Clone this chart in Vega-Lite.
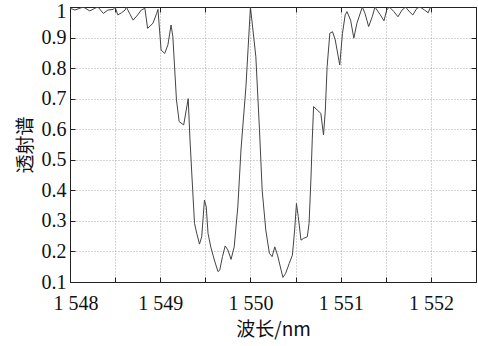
{
  "$schema": "https://vega.github.io/schema/vega-lite/v6.json",
  "width": 406,
  "height": 275,
  "autosize": "none",
  "padding": {"left": 70, "top": 7, "right": 2, "bottom": 64},
  "background": "white",
  "config": {
    "view": {"stroke": "#222", "strokeWidth": 1},
    "axis": {
      "labelFont": "Liberation Serif",
      "labelFontSize": 20,
      "labelColor": "#111",
      "titleFont": "Noto Sans CJK SC",
      "titleFontWeight": "normal",
      "titleFontSize": 19,
      "titleColor": "#111",
      "domainColor": "#222",
      "tickColor": "#222",
      "gridColor": "#aaa",
      "gridDash": [1, 2],
      "gridWidth": 1
    }
  },
  "data": {
    "values": [
      {"wavelength": 1548.0, "transmission": 0.996},
      {"wavelength": 1548.055, "transmission": 0.99},
      {"wavelength": 1548.11, "transmission": 0.996},
      {"wavelength": 1548.147, "transmission": 1.0},
      {"wavelength": 1548.22, "transmission": 0.987},
      {"wavelength": 1548.276, "transmission": 0.996},
      {"wavelength": 1548.31, "transmission": 1.0},
      {"wavelength": 1548.37, "transmission": 0.979},
      {"wavelength": 1548.42, "transmission": 0.99},
      {"wavelength": 1548.48, "transmission": 0.992},
      {"wavelength": 1548.5, "transmission": 1.0},
      {"wavelength": 1548.53, "transmission": 0.974},
      {"wavelength": 1548.57, "transmission": 0.981},
      {"wavelength": 1548.61, "transmission": 0.99},
      {"wavelength": 1548.625, "transmission": 1.0},
      {"wavelength": 1548.66, "transmission": 0.979},
      {"wavelength": 1548.7, "transmission": 0.957},
      {"wavelength": 1548.75, "transmission": 0.974},
      {"wavelength": 1548.79, "transmission": 0.99},
      {"wavelength": 1548.83, "transmission": 0.996},
      {"wavelength": 1548.86, "transmission": 0.93},
      {"wavelength": 1548.92, "transmission": 0.947},
      {"wavelength": 1548.96, "transmission": 0.979},
      {"wavelength": 1548.975, "transmission": 0.992},
      {"wavelength": 1549.01, "transmission": 0.859},
      {"wavelength": 1549.05, "transmission": 0.848},
      {"wavelength": 1549.085, "transmission": 0.876},
      {"wavelength": 1549.12, "transmission": 0.941},
      {"wavelength": 1549.14, "transmission": 0.903},
      {"wavelength": 1549.18, "transmission": 0.696},
      {"wavelength": 1549.21, "transmission": 0.625},
      {"wavelength": 1549.26, "transmission": 0.614},
      {"wavelength": 1549.31, "transmission": 0.7},
      {"wavelength": 1549.33, "transmission": 0.565},
      {"wavelength": 1549.36, "transmission": 0.4},
      {"wavelength": 1549.38, "transmission": 0.292},
      {"wavelength": 1549.405, "transmission": 0.259},
      {"wavelength": 1549.435, "transmission": 0.224},
      {"wavelength": 1549.46, "transmission": 0.248},
      {"wavelength": 1549.49, "transmission": 0.368},
      {"wavelength": 1549.51, "transmission": 0.346},
      {"wavelength": 1549.53, "transmission": 0.259},
      {"wavelength": 1549.56, "transmission": 0.215},
      {"wavelength": 1549.6, "transmission": 0.172},
      {"wavelength": 1549.64, "transmission": 0.134},
      {"wavelength": 1549.66, "transmission": 0.139},
      {"wavelength": 1549.69, "transmission": 0.183},
      {"wavelength": 1549.72, "transmission": 0.218},
      {"wavelength": 1549.75, "transmission": 0.205},
      {"wavelength": 1549.785, "transmission": 0.174},
      {"wavelength": 1549.82, "transmission": 0.215},
      {"wavelength": 1549.86, "transmission": 0.346},
      {"wavelength": 1549.895, "transmission": 0.532},
      {"wavelength": 1549.95, "transmission": 0.739},
      {"wavelength": 1550.0, "transmission": 1.0},
      {"wavelength": 1550.06, "transmission": 0.837},
      {"wavelength": 1550.1, "transmission": 0.6},
      {"wavelength": 1550.13, "transmission": 0.4},
      {"wavelength": 1550.17, "transmission": 0.27},
      {"wavelength": 1550.21, "transmission": 0.194},
      {"wavelength": 1550.24, "transmission": 0.183},
      {"wavelength": 1550.27, "transmission": 0.215},
      {"wavelength": 1550.3, "transmission": 0.188},
      {"wavelength": 1550.34, "transmission": 0.139},
      {"wavelength": 1550.36, "transmission": 0.115},
      {"wavelength": 1550.39, "transmission": 0.128},
      {"wavelength": 1550.43, "transmission": 0.161},
      {"wavelength": 1550.465, "transmission": 0.188},
      {"wavelength": 1550.49, "transmission": 0.27},
      {"wavelength": 1550.51, "transmission": 0.357},
      {"wavelength": 1550.53, "transmission": 0.314},
      {"wavelength": 1550.56, "transmission": 0.237},
      {"wavelength": 1550.59, "transmission": 0.243},
      {"wavelength": 1550.63, "transmission": 0.248},
      {"wavelength": 1550.65, "transmission": 0.292},
      {"wavelength": 1550.67, "transmission": 0.434},
      {"wavelength": 1550.685, "transmission": 0.565},
      {"wavelength": 1550.7, "transmission": 0.674},
      {"wavelength": 1550.74, "transmission": 0.663},
      {"wavelength": 1550.78, "transmission": 0.652},
      {"wavelength": 1550.81, "transmission": 0.581},
      {"wavelength": 1550.83, "transmission": 0.663},
      {"wavelength": 1550.85, "transmission": 0.805},
      {"wavelength": 1550.88, "transmission": 0.914},
      {"wavelength": 1550.91, "transmission": 0.919},
      {"wavelength": 1550.94, "transmission": 0.892},
      {"wavelength": 1550.99, "transmission": 0.81},
      {"wavelength": 1551.02, "transmission": 0.914},
      {"wavelength": 1551.05, "transmission": 0.974},
      {"wavelength": 1551.07, "transmission": 0.985},
      {"wavelength": 1551.11, "transmission": 0.957},
      {"wavelength": 1551.146, "transmission": 0.898},
      {"wavelength": 1551.18, "transmission": 0.947},
      {"wavelength": 1551.24, "transmission": 1.0},
      {"wavelength": 1551.27, "transmission": 0.979},
      {"wavelength": 1551.31, "transmission": 0.936},
      {"wavelength": 1551.35, "transmission": 0.968},
      {"wavelength": 1551.38, "transmission": 1.0},
      {"wavelength": 1551.44, "transmission": 0.974},
      {"wavelength": 1551.48, "transmission": 0.955},
      {"wavelength": 1551.51, "transmission": 0.99},
      {"wavelength": 1551.54, "transmission": 1.0},
      {"wavelength": 1551.59, "transmission": 0.985},
      {"wavelength": 1551.635, "transmission": 0.968},
      {"wavelength": 1551.68, "transmission": 0.99},
      {"wavelength": 1551.72, "transmission": 1.0},
      {"wavelength": 1551.76, "transmission": 0.985},
      {"wavelength": 1551.8, "transmission": 0.974},
      {"wavelength": 1551.845, "transmission": 0.996},
      {"wavelength": 1551.88, "transmission": 1.0},
      {"wavelength": 1551.93, "transmission": 0.99},
      {"wavelength": 1551.97, "transmission": 0.981},
      {"wavelength": 1551.99, "transmission": 0.996},
      {"wavelength": 1552.0, "transmission": 1.0}
    ]
  },
  "layer": [
    {
      "mark": {"type": "line", "color": "#444", "strokeWidth": 1, "clip": true},
      "encoding": {
        "x": {
          "field": "wavelength",
          "type": "quantitative",
          "scale": {"domain": [1548, 1552.5], "nice": false, "zero": false},
          "axis": {
            "title": "波长/nm",
            "values": [1548, 1548.5, 1549, 1549.5, 1550, 1550.5, 1551, 1551.5, 1552, 1552.5],
            "labelExpr": "datum.value % 1 === 0 ? replace(format(datum.value, ','), ',', ' ') : ''",
            "labelFlush": true,
            "labelFlushOffset": 17,
            "tickSize": -5,
            "labelPadding": 16,
            "titlePadding": 7
          }
        },
        "y": {
          "field": "transmission",
          "type": "quantitative",
          "scale": {"domain": [0.1, 1], "nice": false, "zero": false},
          "axis": {
            "title": "透射谱",
            "values": [0.1, 0.2, 0.3, 0.4, 0.5, 0.6, 0.7, 0.8, 0.9, 1],
            "format": ".1~f",
            "labelFlush": false,
            "labelOffset": {"condition": {"test": "datum.value === 1", "value": 4}, "value": 0},
            "tickSize": -5,
            "labelPadding": 9,
            "titlePadding": 6
          }
        }
      }
    },
    {
      "mark": {"type": "line", "opacity": 0},
      "encoding": {
        "x": {
          "field": "wavelength",
          "type": "quantitative",
          "axis": {"orient": "top", "title": null, "labels": false, "grid": false, "tickSize": -5,
            "values": [1548, 1548.5, 1549, 1549.5, 1550, 1550.5, 1551, 1551.5, 1552, 1552.5]}
        },
        "y": {
          "field": "transmission",
          "type": "quantitative",
          "axis": {"orient": "right", "title": null, "labels": false, "grid": false, "tickSize": -5,
            "values": [0.1, 0.2, 0.3, 0.4, 0.5, 0.6, 0.7, 0.8, 0.9, 1]}
        }
      }
    }
  ],
  "resolve": {"axis": {"x": "independent", "y": "independent"}}
}
